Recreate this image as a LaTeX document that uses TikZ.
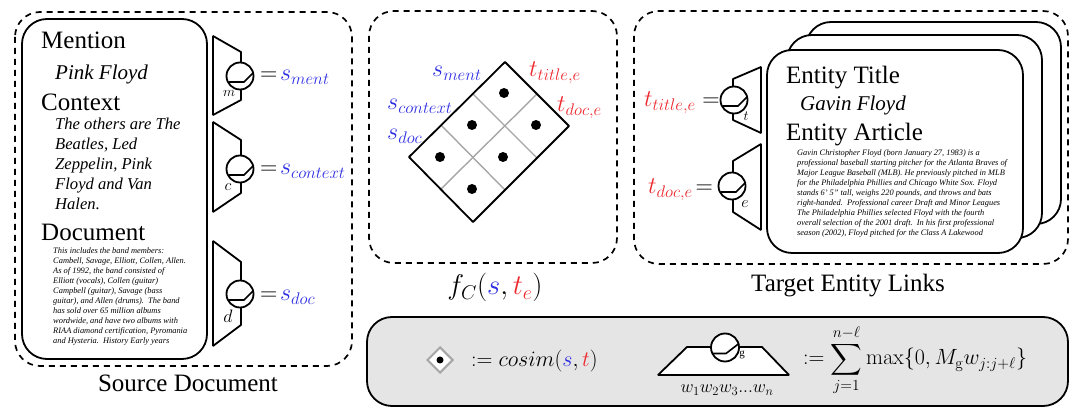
\documentclass[tikz,border=0pt]{standalone}
\usepackage{fix-cm}
\usepackage{amsmath,amssymb}
\usepackage[no-math]{fontspec}
\setmainfont{Liberation Serif}
\usepackage{xcolor}
\usetikzlibrary{shapes.geometric, positioning}
\definecolor{sourceblue}{RGB}{45, 45, 225}
\definecolor{targetred}{RGB}{236, 40, 46}
\definecolor{panelgray}{RGB}{229, 229, 229}
\newcommand{\fsize}[1]{\fontsize{#1}{#1}\selectfont}

\begin{document}
\begin{tikzpicture}[
    x=1pt, y=-1pt,
    panel/.style={draw=black, line width=1.7pt, dash pattern=on 6pt off 5pt, rounded corners=25pt},
    card/.style={draw=black, fill=white, line width=1.8pt, rounded corners=25pt},
    filter/.style={draw=black, line width=1.8pt, join=bevel},
    unit/.style={circle, draw=black, fill=white, line width=1.8pt, minimum size=27pt, inner sep=0pt},
    grid/.style={draw=black!35, line width=1.4pt},
    heading/.style={anchor=base west, inner sep=0pt, font=\fsize{25}},
    mentiontext/.style={anchor=base west, inner sep=0pt, font=\fsize{21}\itshape},
    para/.style={anchor=north west, inner sep=0pt, align=left, font=\itshape},
    vec/.style={anchor=base west, inner sep=0pt, font=\fsize{24}}
]
\useasboundingbox (0,0) rectangle (1080,419);

% Panels
\draw[panel] (15,12) rectangle (352,366);
\draw[panel] (369,11) rectangle (617,263);
\draw[panel] (634,11) rectangle (1068,264);

% Source document
\draw[card] (22,19) rectangle (207,359);
\node[heading] (mention) at (41,49) {Mention};
\node[mentiontext] (mentionval) at (55,80) {Pink Floyd};
\node[heading] (context) at (41,111) {Context};
\node[para, font=\fontsize{16.6}{20}\selectfont\itshape] (contextval) at (55,118)
    {The others are The\\Beatles, Led\\Zeppelin, Pink\\Floyd and Van\\Halen.};
\node[heading] (document) at (41,241) {Document};
\node[para, font=\fontsize{8.4}{10.1}\selectfont\itshape] (documentval) at (53,247)
    {This includes the band members:\\Cambell, Savage, Elliott, Collen, Allen.\\As of 1992, the band consisted of\\Elliott (vocals), Collen (guitar)\\Campbell (guitar), Savage (bass\\guitar), and Allen (drums).\ \ The band\\has sold over 65 million albums\\wordwide, and have two albums with\\RIAA diamond certification, Pyromania\\and Hysteria.\ \ History Early years};

% Source filters
\draw[filter] (213,36) -- (241,52) -- (241,100) -- (213,115) -- cycle;
\draw[filter] (213,122) -- (241,140) -- (241,193) -- (213,212) -- cycle;
\draw[filter] (213,241) -- (241,262) -- (241,325) -- (213,346) -- cycle;
\node[unit] (um) at (240,76) {};
\node[unit] (uc) at (240,169) {};
\node[unit] (ud) at (240,294) {};
\foreach \u in {um,uc,ud}{
    \draw[line width=1.6pt] (\u.center) ++(-11,6) -- ++(15,0) -- ++(9,-9);
}
\node[inner sep=0pt, font=\fsize{14}] (ml) at (229,93) {$m$};
\node[inner sep=0pt, font=\fsize{16}] (cl) at (228,187) {$c$};
\node[inner sep=0pt, font=\fsize{18}] (dl) at (228,316) {$d$};

\node[vec] (sment) at (260,81) {$=\!\textcolor{sourceblue}{s_{ment}}$};
\node[vec] (scontext) at (260,175) {$=\!\textcolor{sourceblue}{s_{context}}$};
\node[vec] (sdoc) at (260,301) {$=\!\textcolor{sourceblue}{s_{doc}}$};
\node[anchor=base, inner sep=0pt, font=\fsize{25}] (srclabel) at (188,392) {Source Document};

% Comparison grid
\coordinate (gl) at (409,157);
\coordinate (gt) at (505,62);
\coordinate (gr) at (569,126);
\coordinate (gb) at (473,222);
\draw[grid] (gl) ++(32,-32) -- ++(64,65);
\draw[grid] (gl) ++(64,-63) -- ++(64,64);
\draw[grid] (gl) ++(32,32) -- ++(96,-95);
\draw[filter] (gl) -- (gt) -- (gr) -- (gb) -- cycle;
\foreach \dotx/\doty in {504/93,472/125,536/125,440/157,503/157,472/189}{
    \fill (\dotx,\doty) circle (5pt);
}
\node[vec] (gment) at (432,77) {\textcolor{sourceblue}{$s_{ment}$}};
\node[vec] (gcontext) at (387,110) {\textcolor{sourceblue}{$s_{context}$}};
\node[vec] (gdoc) at (387,140) {\textcolor{sourceblue}{$s_{doc}$}};
\node[vec] (gtitle) at (529,77) {\textcolor{targetred}{$t_{title,e}$}};
\node[vec] (gdocsim) at (557,112) {\textcolor{targetred}{$t_{doc,e}$}};
\node[anchor=base, inner sep=0pt, font=\fsize{28.5}] (fclabel) at (495,295)
    {$f_C(\textcolor{sourceblue}{s},\textcolor{targetred}{t_e})$};

% Target entity cards
\draw[card] (806,22) rectangle (1061,224);
\draw[card] (787,35) rectangle (1042,238);
\draw[card] (767,50) rectangle (1023,253);
\node[heading] (title) at (786,84) {Entity Title};
\node[mentiontext] (titleval) at (800,111) {Gavin Floyd};
\node[heading] (article) at (786,141) {Entity Article};
\node[para, font=\fontsize{8.35}{10}\selectfont\itshape] (articleval) at (797,150)
    {Gavin Christopher Floyd (born January 27, 1983) is a\\professional baseball starting pitcher for the Atlanta Braves of\\Major League Baseball (MLB). He previously pitched in MLB\\for the Philadelphia Phillies and Chicago White Sox. Floyd\\stands 6' 5" tall, weighs 220 pounds, and throws and bats\\right-handed.\ \ Professional career Draft and Minor Leagues\\The Philadelphia Phillies selected Floyd with the fourth\\overall selection of the 2001 draft.\ \ In his first professional\\season (2002), Floyd pitched for the Class A Lakewood};

% Target filters
\draw[filter] (761,67) -- (733,79) -- (733,120) -- (761,133) -- cycle;
\draw[filter] (761,144) -- (733,161) -- (733,212) -- (761,230) -- cycle;
\node[unit] (ut) at (734,100) {};
\node[unit] (ue) at (732,186) {};
\foreach \u in {ut,ue}{
    \draw[line width=1.6pt] (\u.center) ++(-11,6) -- ++(15,0) -- ++(9,-9);
}
\node[inner sep=0pt, font=\fsize{14}] (tl) at (746,116) {$t$};
\node[inner sep=0pt, font=\fsize{16}] (el) at (745,204) {$e$};
\node[vec] (ttitle) at (644,107) {$\textcolor{targetred}{t_{title,e}}=$};
\node[vec] (tdoc) at (648,194) {$\textcolor{targetred}{t_{doc,e}}\!=$};
\node[anchor=base, inner sep=0pt, font=\fsize{25}] (tgtlabel) at (848,292) {Target Entity Links};

% Legend
\draw[card, fill=panelgray] (367,317) rectangle (1068,406);
\node[diamond, draw=black!35, fill=white, line width=2pt, minimum size=26pt, inner sep=0pt] (dotkey) at (440,360) {};
\fill (dotkey.center) circle (3.5pt);
\node[vec, font=\fsize{22}] (cosim) at (471,367)
    {$:=cosim(\textcolor{sourceblue}{s},\textcolor{targetred}{t})$};
\draw[filter, fill=white] (658,375) -- (687,347) -- (762,347) -- (789,375) -- cycle;
\node[unit, minimum size=28pt] (ug) at (725,347.5) {};
\draw[line width=1.6pt] (ug.center) ++(-12,6) -- ++(13,0) -- ++(13,-10);
\node[inner sep=0pt, font=\fsize{11}] (gl2) at (742,355) {g};
\node[anchor=base, inner sep=0pt, font=\fsize{18}] (words) at (727,393) {$w_1w_2w_3...w_n$};
\node[anchor=base west, inner sep=0pt, font=\fsize{22}] (cnn) at (803,365)
    {$:=\displaystyle\sum_{j=1}^{n-\ell}\max\{0,M_{\mathrm{g}}w_{j:j+\ell}\}$};
\end{tikzpicture}
\end{document}
